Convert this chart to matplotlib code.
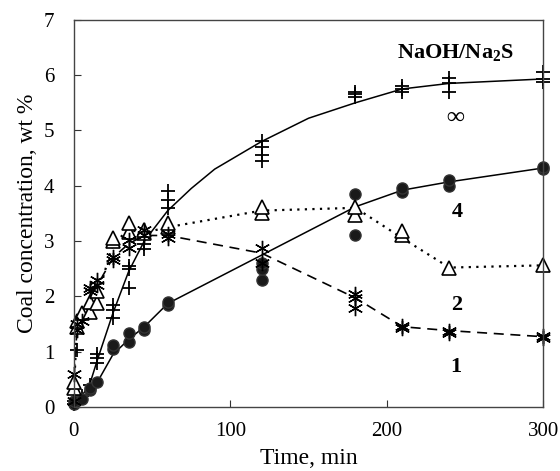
import matplotlib
matplotlib.use("Agg")
import matplotlib.pyplot as plt

plt.rcParams["font.family"] = ["Liberation Serif", "DejaVu Serif"]
plt.rcParams["mathtext.fontset"] = "custom"
plt.rcParams["mathtext.rm"] = "Liberation Serif"
plt.rcParams["mathtext.bf"] = "Liberation Serif:bold"

# measured points (replicates), NaOH/Na2S = infinity
inf_t = [0, 0, 2, 5, 10, 15, 15, 15, 25, 25, 25, 35, 35, 35, 45, 45, 45,
         60, 60, 60, 120, 120, 120, 120, 180, 180, 180, 210, 210, 210,
         240, 240, 240, 300, 300, 300]
inf_y = [0.05, 0.1, 1.03, 0.2, 0.4, 0.8, 0.88, 0.95, 1.6, 1.75, 1.85,
         2.15, 2.5, 2.55, 2.85, 2.95, 3.1, 3.6, 3.75, 3.9,
         4.45, 4.55, 4.7, 4.8, 5.6, 5.65, 5.7, 5.7, 5.75, 5.8,
         5.7, 5.85, 5.95, 5.88, 5.93, 6.05]

# NaOH/Na2S = 4
r4_t = [0, 0, 5, 10, 10, 15, 25, 25, 35, 35, 45, 45, 60, 60,
        120, 120, 120, 180, 180, 210, 210, 240, 240, 300, 300]
r4_y = [0.05, 0.1, 0.15, 0.3, 0.35, 0.45, 1.05, 1.12, 1.18, 1.33, 1.4, 1.45,
        1.85, 1.9, 2.3, 2.5, 2.6, 3.1, 3.85, 3.88, 3.95, 4.0, 4.1, 4.3, 4.33]

# NaOH/Na2S = 2
r2_t = [0, 0, 2, 2, 5, 10, 10, 15, 15, 25, 25, 35, 35, 45, 45, 60, 60,
        120, 120, 180, 180, 210, 210, 240, 300]
r2_y = [0.35, 0.45, 1.45, 1.55, 1.7, 1.72, 1.9, 1.88, 2.1, 3.0, 3.05,
        3.17, 3.33, 3.15, 3.2, 3.25, 3.33, 3.5, 3.62, 3.47, 3.62,
        3.1, 3.18, 2.52, 2.56]

# NaOH/Na2S = 1
r1_t = [0, 0, 2, 2, 5, 10, 10, 15, 15, 25, 25, 35, 35, 45, 45, 60, 60,
        120, 120, 180, 180, 180, 210, 210, 240, 240, 300, 300]
r1_y = [0.1, 0.6, 1.4, 1.5, 1.55, 2.1, 2.15, 2.2, 2.3, 2.65, 2.72,
        2.87, 3.02, 3.1, 3.2, 3.05, 3.12, 2.6, 2.87, 1.78, 1.97, 2.05,
        1.43, 1.47, 1.33, 1.38, 1.25, 1.28]

# trend lines
inf_line_t = [0, 5, 10, 15, 25, 35, 45, 60, 75, 90, 120, 150, 180, 210, 240, 300]
inf_line_y = [0.05, 0.2, 0.4, 0.85, 1.7, 2.45, 3.0, 3.55, 3.95, 4.3, 4.8, 5.22,
              5.5, 5.75, 5.85, 5.93]
r4_line_t = [0, 5, 10, 15, 25, 35, 45, 60, 180, 210, 240, 300]
r4_line_y = [0.05, 0.12, 0.3, 0.45, 0.95, 1.22, 1.45, 1.87, 3.62, 3.92, 4.07, 4.32]
r2_line_t = [0, 2, 5, 10, 15, 25, 35, 45, 60, 120, 180, 210, 240, 300]
r2_line_y = [0.3, 1.5, 1.65, 1.8, 2.0, 2.95, 3.2, 3.15, 3.25, 3.55, 3.6, 3.05, 2.52, 2.56]
r1_line_t = [0, 2, 5, 10, 15, 25, 35, 45, 60, 120, 180, 210, 240, 300]
r1_line_y = [0.6, 1.4, 1.6, 2.0, 2.2, 2.7, 2.95, 3.1, 3.1, 2.78, 1.97, 1.45, 1.38, 1.27]

fig = plt.figure(figsize=(5.6, 4.71), dpi=100)
ax = fig.add_axes([0.132, 0.136, 0.838, 0.822])

ax.plot(inf_line_t, inf_line_y, color="black", lw=1.1)
ax.plot(r4_line_t, r4_line_y, color="black", lw=1.1)
ax.plot(r2_line_t, r2_line_y, color="black", lw=1.6, linestyle=(0, (1, 2.4)))
ax.plot(r1_line_t, r1_line_y, color="black", lw=1.2, linestyle=(0, (6, 4)))

ax.plot(inf_t, inf_y, linestyle="none", marker="+", ms=10, mew=1.3, color="black",
        clip_on=False)
ax.plot(r4_t, r4_y, linestyle="none", marker="o", ms=8, mfc="#1a1a1a", mec="#333333",
        clip_on=False)
ax.plot(r2_t, r2_y, linestyle="none", marker="^", ms=9.5, mfc="white", mec="black",
        mew=1.2, clip_on=False)
ax.plot(r1_t, r1_y, linestyle="none", marker=(6, 2, 0), ms=11, mew=1.0, color="black",
        clip_on=False)

ax.text(244, 6.4, r"NaOH/Na$\mathbf{_2}$S", fontsize=16, fontweight="bold",
        ha="center", va="center")
ax.text(244, 5.24, "\u221e", fontsize=18, fontweight="bold", ha="center", va="center")
ax.text(245, 3.53, "4", fontsize=16, fontweight="bold", ha="center", va="center")
ax.text(245, 1.84, "2", fontsize=16, fontweight="bold", ha="center", va="center")
ax.text(244, 0.73, "1", fontsize=16, fontweight="bold", ha="center", va="center")

ax.set_xlim(0, 300)
ax.set_ylim(0, 7)
ax.set_xticks([0, 100, 200, 300])
ax.set_yticks(range(0, 8))
ax.tick_params(direction="in", length=5, labelsize=15, color="#333333")
ax.tick_params(axis="x", pad=11)
ax.tick_params(axis="y", pad=14)
for s in ax.spines.values():
    s.set_color("#444444")
    s.set_linewidth(1.0)

ax.set_xlabel("Time, min", fontsize=17, labelpad=5)
ax.set_ylabel("Coal concentration, wt %", fontsize=17, labelpad=4)

fig.savefig("out.png", dpi=100)
